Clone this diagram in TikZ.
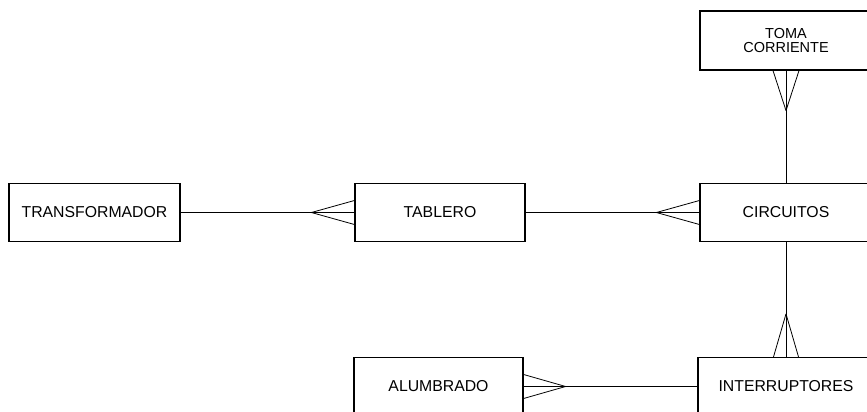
\documentclass[tikz,border=0pt]{standalone}
\usepackage{fontspec}
\setmainfont{Liberation Sans}
\usetikzlibrary{calc}

\tikzset{
  entity/.style = {draw, line width=1.2pt, inner sep=0pt, minimum width=171pt,
    minimum height=58pt, font=\fontsize{15.8}{15.8}\selectfont},
  link/.style = {line width=0.8pt}
}
% crow's foot: #1 anchor on the box, #2 apex offset, #3 prong offset
\newcommand{\crowfoot}[3]{%
  \draw[link] ($(#1)+(#2)$) -- ($(#1)+(#3)$);
  \draw[link] ($(#1)+(#2)$) -- ($(#1)-(#3)$);
}

\begin{document}
\begin{tikzpicture}[x=1pt, y=-1pt]
\useasboundingbox (0,0) rectangle (867,412);

\node[entity] (trafo) at (94.5,212.5) {TRANSFORMADOR};
\node[entity, minimum width=170pt] (tablero) at (440,212.5) {TABLERO};
\node[entity, minimum width=172pt] (circuitos) at (786,212.5) {CIRCUITOS};
\node[entity, minimum width=172pt, minimum height=59pt, align=center,
  font=\fontsize{14.5}{14}\selectfont] (toma) at (786,40.5) {TOMA\\CORRIENTE};
\node[entity, minimum width=176pt] (interr) at (786,386.5) {INTERRUPTORES};
\node[entity, minimum width=169pt] (alumbrado) at (438.5,386.5) {ALUMBRADO};

\draw[link] (trafo) -- (tablero);
\draw[link] (tablero) -- (circuitos);
\draw[link] (circuitos) -- (toma);
\draw[link] (circuitos) -- (interr);
\draw[link] (alumbrado) -- (interr);

\crowfoot{tablero.west}{-43,0}{0,12}
\crowfoot{circuitos.west}{-43,0}{0,12}
\crowfoot{toma.south}{0,40}{13,0}
\crowfoot{interr.north}{0,-43}{12.5,0}
\crowfoot{alumbrado.east}{42,0}{0,12}
\end{tikzpicture}
\end{document}
